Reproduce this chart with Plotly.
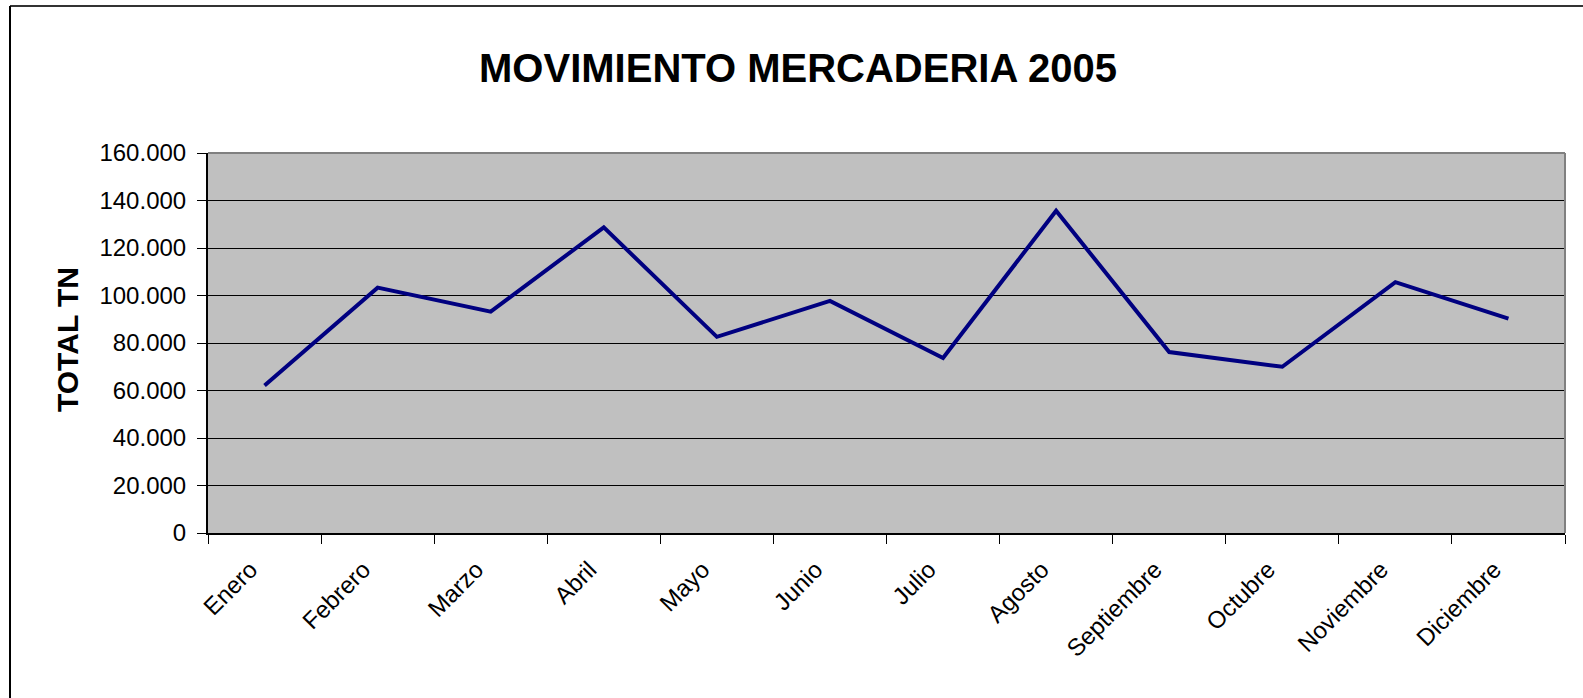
import plotly.graph_objects as go

meses = ["Enero", "Febrero", "Marzo", "Abril", "Mayo", "Junio", "Julio",
         "Agosto", "Septiembre", "Octubre", "Noviembre", "Diciembre"]
total_tn = [62100, 103300, 93200, 128700, 82600, 97700, 73700,
            135700, 76200, 70000, 105600, 90300]
y_ticks = [0, 20000, 40000, 60000, 80000, 100000, 120000, 140000, 160000]

W, H = 1583, 698
L, R, T, B = 208, 18, 153, 165
pw = W - L - R
ph = H - T - B

def px_x(px):
    return (px - L) / pw

def px_y(py):
    return (H - B - py) / ph

FONT = "Liberation Sans, Arial, sans-serif"
PAD = "\u00a0" * 3  # nudges rotated labels to sit like the original

fig = go.Figure()
fig.add_trace(go.Scatter(
    x=meses, y=total_tn, mode="lines",
    line=dict(color="#000080", width=4),
    showlegend=False,
))

fig.update_layout(
    width=W, height=H,
    margin=dict(l=L, r=R, t=T, b=B, autoexpand=False),
    paper_bgcolor="white",
    plot_bgcolor="#C0C0C0",
    separators=",.",
    font=dict(family=FONT, color="black", size=24),
    title=dict(
        text="<b>MOVIMIENTO MERCADERIA 2005</b>",
        font=dict(family=FONT, size=40, color="black"),
        x=798 / W, xanchor="center",
        y=1 - 68 / H, yanchor="middle", yref="container",
    ),
    xaxis=dict(
        type="category",
        range=[-0.5, len(meses) - 0.5],
        tickmode="array",
        tickvals=meses,
        ticktext=[m + PAD for m in meses],
        tickson="boundaries",
        ticks="outside", ticklen=9, tickcolor="black", tickwidth=1,
        tickangle=-45,
        tickfont=dict(family=FONT, size=24, color="black"),
        showgrid=False,
        showline=True, linecolor="black", linewidth=2,
        ticklabelstandoff=-3,
        zeroline=False,
    ),
    yaxis=dict(
        range=[0, 160000],
        tickvals=y_ticks,
        tickformat=",d",
        ticks="outside", ticklen=9, tickcolor="black", tickwidth=1,
        tickfont=dict(family=FONT, size=24, color="black"),
        showgrid=True, gridcolor="black", gridwidth=1,
        showline=True, linecolor="black", linewidth=2,
        zeroline=False,
        ticklabelstandoff=6,
    ),
    shapes=[
        # plot area border (top/right, gray)
        dict(type="line", xref="paper", yref="paper", x0=0, x1=1, y0=1, y1=1,
             line=dict(color="#808080", width=2), layer="above"),
        dict(type="line", xref="paper", yref="paper", x0=1, x1=1, y0=0, y1=1,
             line=dict(color="#808080", width=2), layer="above"),
        # outer chart border
        dict(type="line", xref="paper", yref="paper",
             x0=px_x(10), x1=px_x(W + 5), y0=px_y(6), y1=px_y(6),
             line=dict(color="#333333", width=2)),
        dict(type="line", xref="paper", yref="paper",
             x0=px_x(10), x1=px_x(10), y0=px_y(6), y1=px_y(H + 5),
             line=dict(color="#000000", width=2)),
    ],
    annotations=[
        dict(text="<b>TOTAL TN</b>", xref="paper", yref="paper",
             x=px_x(67), y=px_y(340), xanchor="center", yanchor="middle",
             textangle=-90, showarrow=False,
             font=dict(family=FONT, size=30, color="black")),
    ],
)

fig.write_html("out.html",
               config={"displayModeBar": False},
               post_script="document.body.style.margin='0';"
                           "document.body.style.overflow='hidden';")
